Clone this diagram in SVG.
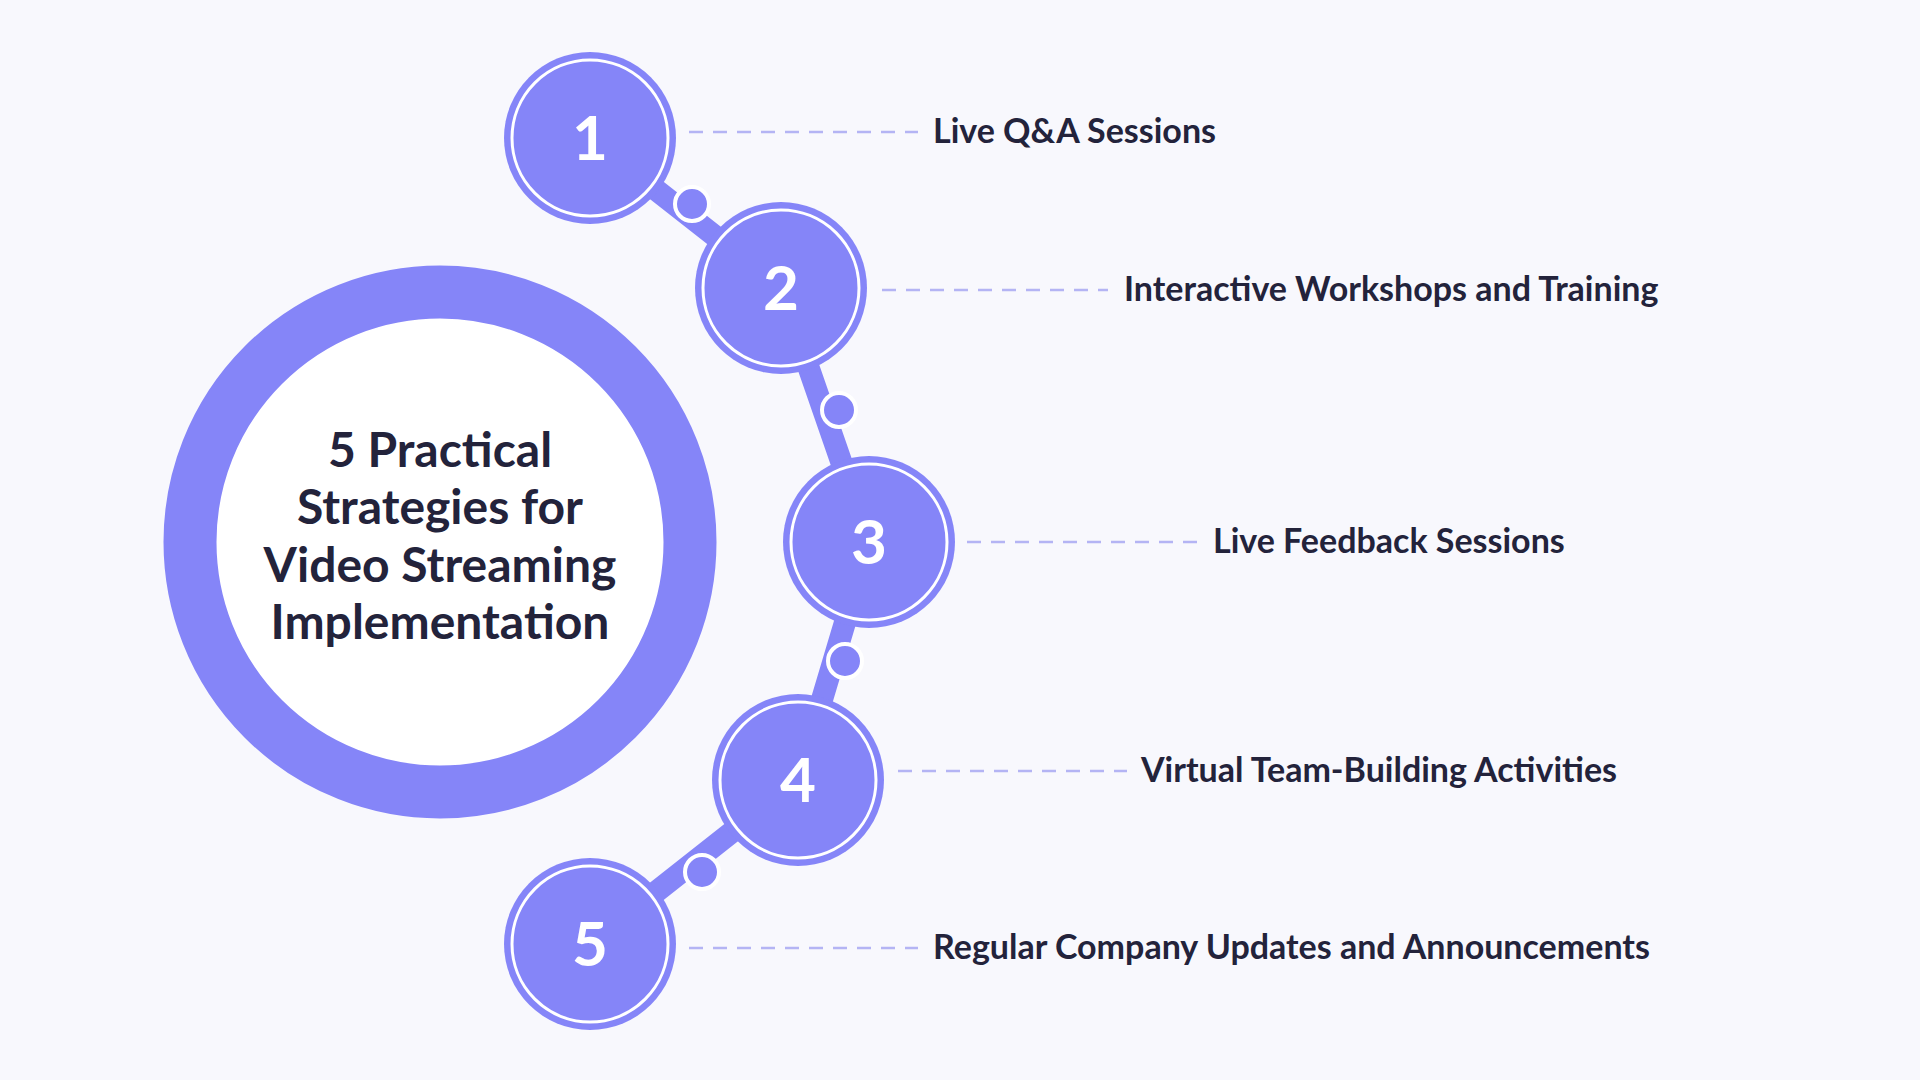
<svg xmlns="http://www.w3.org/2000/svg" width="1920" height="1080" viewBox="0 0 1920 1080">
<style>
.num{font-family:Lato,"Liberation Sans",sans-serif;font-weight:bold;font-size:62px;fill:#fff;text-anchor:middle}
.lbl{font-family:Lato,"Liberation Sans",sans-serif;font-weight:bold;font-size:34px;fill:#23233b}
.ttl{font-family:Lato,"Liberation Sans",sans-serif;font-weight:bold;font-size:48px;fill:#23233b;text-anchor:middle}
.dash{stroke:#b4b4f4;stroke-width:2.5;stroke-dasharray:14 10;fill:none}
.node{fill:#8585f8}
.ring{fill:none;stroke:#fff;stroke-width:3}
.dot{fill:#8585f8;stroke:#fff;stroke-width:4}
</style>
<rect width="1920" height="1080" fill="#f8f8fd"/>
<g id="center">
<circle cx="440" cy="542" r="250" fill="#fff" stroke="#8585f8" stroke-width="53"/>
<text class="ttl" x="440" y="467">5 Practical</text>
<text class="ttl" x="440" y="524">Strategies for</text>
<text class="ttl" x="440" y="582">Video Streaming</text>
<text class="ttl" x="440" y="639">Implementation</text>
</g>
<g id="connectors">
<polyline points="590,138 781,288 869,542 798,780 590,944" fill="none" stroke="#8585f8" stroke-width="22"/>
<circle class="dot" cx="692" cy="204" r="17"/>
<circle class="dot" cx="839" cy="410" r="17"/>
<circle class="dot" cx="845" cy="661" r="17"/>
<circle class="dot" cx="702" cy="872" r="17"/>
<line class="dash" x1="689" y1="132" x2="918" y2="132"/>
<line class="dash" x1="882" y1="290" x2="1108" y2="290"/>
<line class="dash" x1="967" y1="542" x2="1200" y2="542"/>
<line class="dash" x1="898" y1="771" x2="1127" y2="771"/>
<line class="dash" x1="689" y1="948" x2="918" y2="948"/>
</g>
<g id="n1"><circle class="node" cx="590" cy="138" r="86"/><circle class="ring" cx="590" cy="138" r="78"/><text class="num" x="590" y="160">1</text><text class="lbl" x="933" y="143">Live Q&amp;A Sessions</text></g>
<g id="n2"><circle class="node" cx="781" cy="288" r="86"/><circle class="ring" cx="781" cy="288" r="78"/><text class="num" x="781" y="310">2</text><text class="lbl" x="1124" y="301">Interactive Workshops and Training</text></g>
<g id="n3"><circle class="node" cx="869" cy="542" r="86"/><circle class="ring" cx="869" cy="542" r="78"/><text class="num" x="869" y="564">3</text><text class="lbl" x="1213" y="553">Live Feedback Sessions</text></g>
<g id="n4"><circle class="node" cx="798" cy="780" r="86"/><circle class="ring" cx="798" cy="780" r="78"/><text class="num" x="798" y="802">4</text><text class="lbl" x="1141" y="782">Virtual Team-Building Activities</text></g>
<g id="n5"><circle class="node" cx="590" cy="944" r="86"/><circle class="ring" cx="590" cy="944" r="78"/><text class="num" x="590" y="966">5</text><text class="lbl" x="933" y="959">Regular Company Updates and Announcements</text></g>
</svg>
